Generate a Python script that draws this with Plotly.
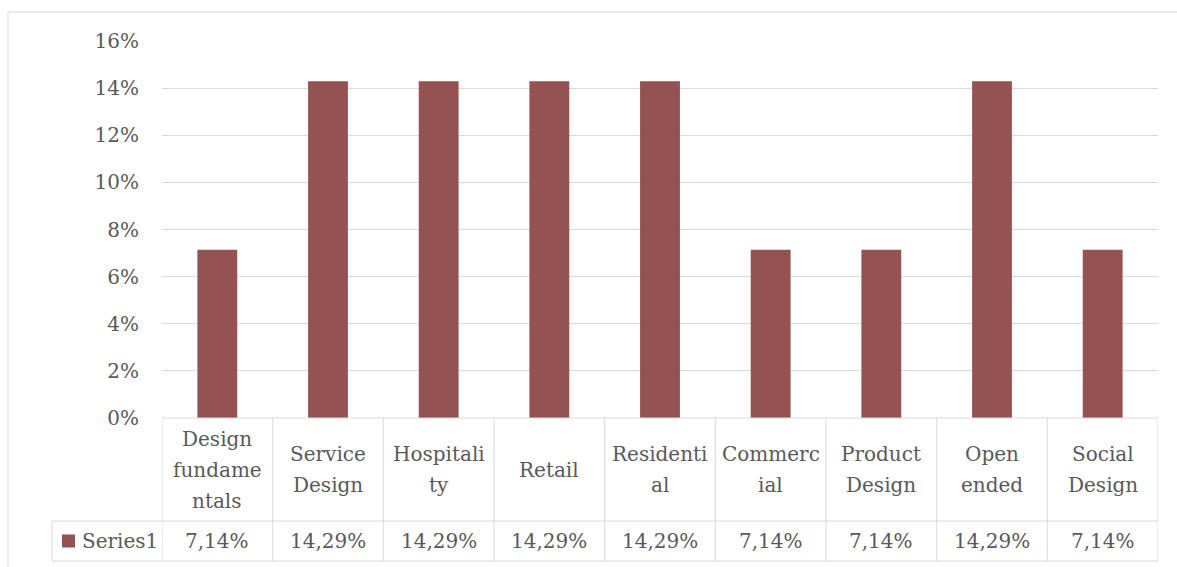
import plotly.graph_objects as go

# ---- data ----
categories = ["Design fundamentals", "Service Design", "Hospitality", "Retail",
              "Residential", "Commercial", "Product Design", "Open ended", "Social Design"]
category_lines = [["Design", "fundame", "ntals"], ["Service", "Design"], ["Hospitali", "ty"],
                  ["Retail"], ["Residenti", "al"], ["Commerc", "ial"], ["Product", "Design"],
                  ["Open", "ended"], ["Social", "Design"]]
series_name = "Series1"
values = [0.0714, 0.1429, 0.1429, 0.1429, 0.1429, 0.0714, 0.0714, 0.1429, 0.0714]
value_labels = [f"{v*100:.2f}%".replace(".", ",") for v in values]
y_ticks = [0, 0.02, 0.04, 0.06, 0.08, 0.10, 0.12, 0.14, 0.16]

# ---- style / layout ----
W, H = 1177, 567
L, R, T, B = 162, 1158, 41, 418   # plot area in pixels
BAR = "#955252"
GRID = "#D9D9D9"
TXT = "#595959"
FONT = "Palatino Linotype, Book Antiqua, DejaVu Serif, serif"
FS = 20

ROW1_BOTTOM = 521
ROW2_BOTTOM = 561
LEG_LEFT = 52
LINE_SP = 31

def py(p):  # pixel y -> paper y
    return (B - p) / (B - T)

def pxx(p):  # pixel x -> paper x
    return (p - L) / (R - L)

fig = go.Figure()
fig.add_trace(go.Bar(x=categories, y=values, marker=dict(color=BAR, line=dict(width=0)),
                     name=series_name, showlegend=False))

shapes = []
line = dict(color=GRID, width=1)
n = len(categories)
# table horizontal lines
shapes.append(dict(type="line", xref="paper", yref="paper", x0=0, x1=1, y0=py(B), y1=py(B), line=line))
for yy in (ROW1_BOTTOM, ROW2_BOTTOM):
    shapes.append(dict(type="line", xref="paper", yref="paper", x0=pxx(LEG_LEFT), x1=1,
                       y0=py(yy), y1=py(yy), line=line))
# vertical lines between categories
for i in range(n + 1):
    shapes.append(dict(type="line", xref="x", yref="paper", x0=i - 0.5, x1=i - 0.5,
                       y0=py(B), y1=py(ROW2_BOTTOM), line=line))
shapes.append(dict(type="line", xref="paper", yref="paper", x0=pxx(LEG_LEFT), x1=pxx(LEG_LEFT),
                   y0=py(ROW1_BOTTOM), y1=py(ROW2_BOTTOM), line=line))
# outer chart border
shapes.append(dict(type="line", xref="paper", yref="paper", x0=pxx(8), x1=pxx(W + 5),
                   y0=py(12), y1=py(12), line=line))
shapes.append(dict(type="line", xref="paper", yref="paper", x0=pxx(8), x1=pxx(8),
                   y0=py(12), y1=py(H + 5), line=line))
# legend key square
shapes.append(dict(type="rect", xref="paper", yref="paper", x0=pxx(62), x1=pxx(75),
                   y0=py(534.5), y1=py(547.5), fillcolor=BAR, line=dict(width=0)))

annotations = []
row1_mid = (B + ROW1_BOTTOM) / 2
for i, lines in enumerate(category_lines):
    k = len(lines)
    for j, t in enumerate(lines):
        yc = row1_mid + (j - (k - 1) / 2) * LINE_SP
        annotations.append(dict(text=t, x=categories[i], xref="x", y=py(yc), yref="paper",
                                showarrow=False, xanchor="center", yanchor="middle",
                                font=dict(family=FONT, size=FS, color=TXT)))
row2_mid = (ROW1_BOTTOM + ROW2_BOTTOM) / 2
for i, t in enumerate(value_labels):
    annotations.append(dict(text=t, x=categories[i], xref="x", y=py(row2_mid), yref="paper",
                            showarrow=False, xanchor="center", yanchor="middle",
                            font=dict(family=FONT, size=FS, color=TXT)))
annotations.append(dict(text=series_name, x=pxx(80), xref="paper", y=py(row2_mid), yref="paper",
                        showarrow=False, xanchor="left", yanchor="middle",
                        font=dict(family=FONT, size=FS, color=TXT)))

fig.update_layout(
    width=W, height=H,
    margin=dict(l=L, r=W - R, t=T, b=H - B, pad=0),
    paper_bgcolor="white", plot_bgcolor="white",
    bargap=0.64,
    font=dict(family=FONT, size=FS, color=TXT),
    xaxis=dict(showticklabels=False, showgrid=False, zeroline=False, showline=False,
               range=[-0.5, n - 0.5]),
    yaxis=dict(range=[0, 0.16], tickvals=y_ticks, tickformat=".0%", showgrid=True,
               gridcolor=GRID, gridwidth=1, zeroline=False, showline=False,
               ticklabelstandoff=22, tickfont=dict(family=FONT, size=FS, color=TXT)),
    shapes=shapes, annotations=annotations,
)

fig.write_html("out.html")
